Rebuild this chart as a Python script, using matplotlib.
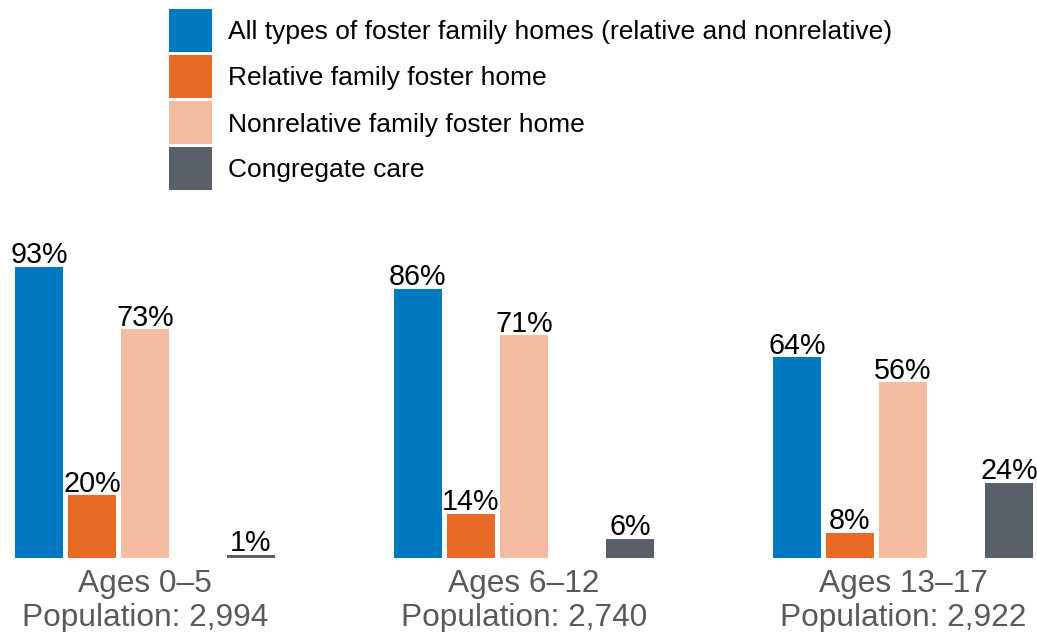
import matplotlib
matplotlib.use("Agg")
import matplotlib.pyplot as plt
from matplotlib.patches import Rectangle

plt.rcParams['font.family'] = ['Liberation Sans', 'DejaVu Sans']

groups = ["Ages 0\u20135", "Ages 6\u201312", "Ages 13\u201317"]
populations = ["Population: 2,994", "Population: 2,740", "Population: 2,922"]
series_names = [
    "All types of foster family homes (relative and nonrelative)",
    "Relative family foster home",
    "Nonrelative family foster home",
    "Congregate care",
]
all_foster = [93, 86, 64]
relative = [20, 14, 8]
nonrelative = [73, 71, 56]
congregate = [1, 6, 24]
series_values = [all_foster, relative, nonrelative, congregate]
colors = ["#0079C1", "#E86A27", "#F4BDA2", "#5A6068"]

W, H = 1037, 632
fig = plt.figure(figsize=(W / 100, H / 100), dpi=100)
ax = fig.add_axes([0, 0, 1, 1])

slot_px = 53.0
px_per_pct = 3.13
slots = [0, 1, 2, 4]
group_step = 379.0 / slot_px
bar_w = 48.0 / slot_px

left0 = 39.0 / slot_px
ax.set_xlim(-left0, -left0 + W / slot_px)
base_from_top = 557.7
ax.set_ylim(-(H - base_from_top) / px_per_pct, base_from_top / px_per_pct)
ax.axis('off')

for si, (vals, col, slot) in enumerate(zip(series_values, colors, slots)):
    for gi, v in enumerate(vals):
        x = gi * group_step + slot
        ax.bar(x, v, width=bar_w, color=col, linewidth=0)
        ax.annotate(f"{v}%", xy=(x, v), xytext=(0, 2.5), textcoords='offset points',
                    ha='center', va='baseline', fontsize=20.7, color='black')

for gi in range(len(groups)):
    cx = gi * group_step + 2
    ax.annotate(groups[gi], xy=(cx, 0), xytext=(0, -25.0), textcoords='offset points',
                ha='center', va='baseline', fontsize=22.8, color='#595959')
    ax.annotate(populations[gi], xy=(cx, 0), xytext=(0, -49.2), textcoords='offset points',
                ha='center', va='baseline', fontsize=22.8, color='#595959')

# legend
sq_x, sq_w, sq_h = 169, 43, 43
tops = [9, 55, 101, 147]
for name, col, t in zip(series_names, colors, tops):
    fig.add_artist(Rectangle((sq_x / W, 1 - (t + sq_h) / H), sq_w / W, sq_h / H,
                             transform=fig.transFigure, color=col, linewidth=0))
    fig.text(228 / W, 1 - (t + sq_h / 2 + 2) / H, name, ha='left', va='center',
             fontsize=19, color='black')

fig.savefig("out.png", dpi=100)
